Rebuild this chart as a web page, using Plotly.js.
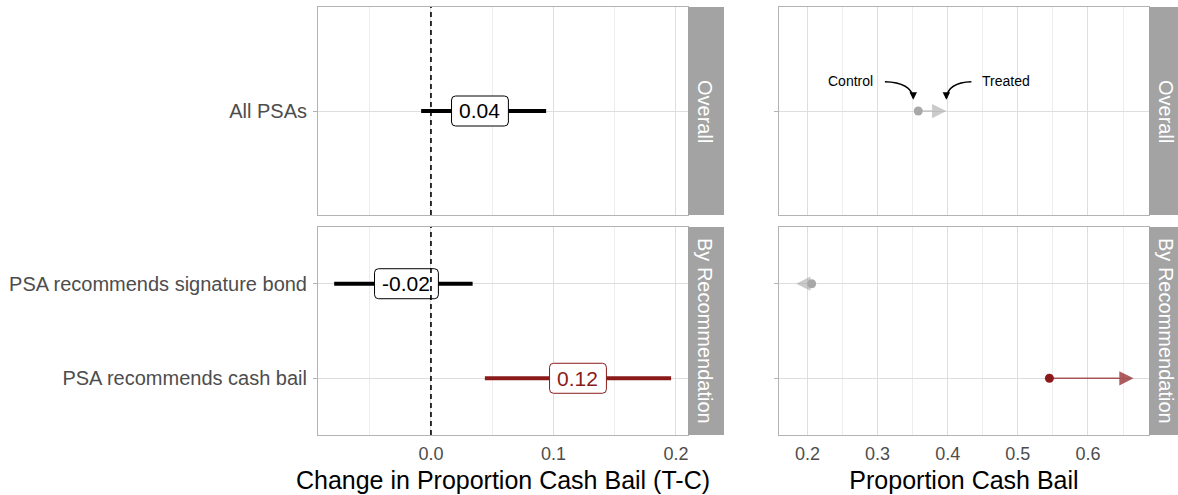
<!DOCTYPE html>
<html>
<head>
<meta charset="utf-8">
<script src="https://cdn.plot.ly/plotly-3.0.1.min.js"></script>
<style>
  html, body { margin: 0; padding: 0; background: #ffffff; }
  #chart { width: 1178px; height: 495px; }
</style>
</head>
<body>
<div id="chart"></div>
<script>
// ---- Data -------------------------------------------------------------
const facetNames = ["Overall", "By Recommendation"];
const overallRows = ["All PSAs"];
const recRows = ["PSA recommends signature bond", "PSA recommends cash bail"];

// Treatment effect (treated minus control) with 95% interval
const overallEst = [0.04];
const overallLo = [-0.008];
const overallHi = [0.094];
const recEst = [-0.02, 0.12];
const recLo = [-0.079, 0.044];
const recHi = [0.034, 0.196];

// Proportion receiving cash bail in each arm
const overallControl = [0.358];
const overallTreated = [0.398];
const recControl = [0.206, 0.545];
const recTreated = [0.184, 0.665];

// Whether the effect is statistically significant
const overallSig = [false];
const recSig = [false, true];

// ---- Styling ------------------------------------------------------------
const W = 1178, H = 495;
const FONT = '"Liberation Sans", Arial, Helvetica, sans-serif';
const SIG = '#8B1A1A';
const NS = '#000000';
const PT_NS = '#A8A8A8';
const ARR_NS = 'rgba(168,168,168,0.6)';
const ARR_SIG = 'rgba(139,26,26,0.7)';
const GRID = '#DEDEDE';
const GRID_MINOR = '#EDEDED';
const BORDER = '#B3B3B3';
const TICKTXT = '#4D4D4D';
const STRIP = '#A3A3A3';

const px = v => v / W;
const py = v => 1 - v / H;
const LEFT = [318, 688], RIGHT = [779, 1149];
const TOPP = [7, 215], BOTP = [227, 435];
const STRIP_W = 36;

const rowPos = (i, n) => n - i;          // first row at the top
const yRange = n => [0.4, n + 0.6];

// canvas measurement for label boxes
const ctx = document.createElement('canvas').getContext('2d');
const LABEL_SIZE = 21;
ctx.font = LABEL_SIZE + 'px ' + FONT;
const textWidth = t => ctx.measureText(t).width;

function roundRect(w, h, r) {
  const a = w / 2, b = h / 2;
  return `M ${-a + r},${-b} L ${a - r},${-b} Q ${a},${-b} ${a},${-b + r} ` +
         `L ${a},${b - r} Q ${a},${b} ${a - r},${b} L ${-a + r},${b} ` +
         `Q ${-a},${b} ${-a},${b - r} L ${-a},${-b + r} Q ${-a},${-b} ${-a + r},${-b} Z`;
}

const fmt = v => (v < 0 ? '-' : '') + Math.abs(v).toFixed(2);

const traces = [];
const shapes = [];
const annotations = [];

// ---- Effect panels (left) ----------------------------------------------
function effectPanel(rows, est, lo, hi, sig, xr, yr) {
  const n = rows.length;
  rows.forEach((r, i) => {
    const y = rowPos(i, n);
    const col = sig[i] ? SIG : NS;
    traces.push({
      type: 'scatter', mode: 'lines', xaxis: xr, yaxis: yr,
      x: [lo[i], hi[i]], y: [y, y],
      line: { color: col, width: 4 }, hoverinfo: 'skip', showlegend: false
    });
    const txt = fmt(est[i]);
    const w = textWidth(txt) + 16;
    shapes.push({
      type: 'path', layer: 'above', xref: xr, yref: yr,
      xsizemode: 'pixel', ysizemode: 'pixel', xanchor: est[i], yanchor: y,
      path: roundRect(w, 30, 4),
      fillcolor: '#ffffff', line: { color: col, width: 1 }
    });
    annotations.push({
      xref: xr, yref: yr, x: est[i], y: y, text: txt, showarrow: false,
      font: { family: FONT, size: LABEL_SIZE, color: col },
      xanchor: 'center', yanchor: 'middle'
    });
  });
  // reference line at zero
  shapes.push({
    type: 'line', layer: 'above', xref: xr, yref: yr + ' domain',
    x0: 0, x1: 0, y0: 0, y1: 1,
    line: { color: '#000000', width: 1.6, dash: '5px,4px' }
  });
}
effectPanel(overallRows, overallEst, overallLo, overallHi, overallSig, 'x3', 'y3');
effectPanel(recRows, recEst, recLo, recHi, recSig, 'x', 'y');

// ---- Proportion panels (right) -------------------------------------------
function proportionPanel(rows, ctrl, trt, sig, xr, yr) {
  const n = rows.length;
  const ys = rows.map((r, i) => rowPos(i, n));
  rows.forEach((r, i) => {
    annotations.push({
      xref: xr, yref: yr, axref: xr, ayref: yr,
      x: trt[i], y: ys[i], ax: ctrl[i], ay: ys[i], text: '',
      showarrow: true, arrowhead: 2, arrowsize: 1.9, arrowwidth: 1.5,
      arrowcolor: sig[i] ? ARR_SIG : ARR_NS, standoff: 0, startstandoff: 0
    });
  });
  traces.push({
    type: 'scatter', mode: 'markers', xaxis: xr, yaxis: yr,
    x: ctrl, y: ys,
    marker: { size: 9, color: sig.map(s => s ? SIG : PT_NS), line: { width: 0 } },
    hoverinfo: 'skip', showlegend: false
  });
}
proportionPanel(overallRows, overallControl, overallTreated, overallSig, 'x4', 'y4');
proportionPanel(recRows, recControl, recTreated, recSig, 'x2', 'y2');

// Arm labels with curved pointers in the overall proportion panel
const c0 = overallControl[0], t0 = overallTreated[0];
annotations.push({
  xref: 'x4', yref: 'y4', x: c0 - 0.0963, y: 1.173, text: 'Control', showarrow: false,
  font: { family: FONT, size: 14, color: '#000000' }
});
annotations.push({
  xref: 'x4', yref: 'y4', x: t0 + 0.0857, y: 1.173, text: 'Treated', showarrow: false,
  font: { family: FONT, size: 14, color: '#000000' }
});
const curves = [
  [c0 - 0.0475, 1.169, c0 - 0.0104, 1.166, c0 - 0.0071, 1.075],
  [t0 + 0.0358, 1.169, t0 + 0.0027, 1.166, t0 + 0.0001, 1.075]
];
curves.forEach(c => {
  shapes.push({
    type: 'path', xref: 'x4', yref: 'y4', layer: 'above',
    path: `M ${c[0]},${c[1]} Q ${c[2]},${c[3]} ${c[4]},${c[5]}`,
    line: { color: '#000000', width: 1.5 }
  });
  annotations.push({
    xref: 'x4', yref: 'y4', x: c[4], y: c[5] - 0.01, ax: 0, ay: -6, text: '',
    showarrow: true, arrowhead: 2, arrowsize: 1, arrowwidth: 1.5, arrowcolor: '#000000',
    standoff: 0
  });
});

// ---- Facet strips ----------------------------------------------------------
[[LEFT, TOPP, facetNames[0]], [LEFT, BOTP, facetNames[1]],
 [RIGHT, TOPP, facetNames[0]], [RIGHT, BOTP, facetNames[1]]].forEach(([xs, ys, name]) => {
  shapes.push({
    type: 'rect', xref: 'paper', yref: 'paper',
    x0: px(xs[1]), x1: px(Math.min(xs[1] + STRIP_W, W)), y0: py(ys[1]), y1: py(ys[0]),
    fillcolor: STRIP, line: { width: 0 }
  });
  annotations.push({
    xref: 'paper', yref: 'paper', x: px(xs[1] + STRIP_W / 2 - 1), y: py((ys[0] + ys[1]) / 2),
    text: name, showarrow: false, textangle: 90,
    font: { family: FONT, size: 20, color: '#ffffff' },
    xanchor: 'center', yanchor: 'middle'
  });
});

// ---- Axes -------------------------------------------------------------------
function xAxis(dom, range, anchor, labels, title, match) {
  const a = {
    domain: [px(dom[0]), px(dom[1])], anchor: anchor, range: range,
    tickmode: 'linear', tick0: 0, dtick: 0.1, tickformat: '.1f',
    showticklabels: labels, ticks: '', ticklabelstandoff: 2,
    tickfont: { family: FONT, size: 18, color: TICKTXT },
    showgrid: true, gridcolor: GRID, gridwidth: 1,
    minor: { tick0: 0, dtick: 0.05, showgrid: true, gridcolor: GRID_MINOR, gridwidth: 1 },
    zeroline: false, showline: true, mirror: true, linecolor: BORDER, linewidth: 1,
    fixedrange: true
  };
  if (title) a.title = { text: title, font: { family: FONT, size: 25, color: '#000000' }, standoff: 8 };
  if (match) a.matches = match;
  return a;
}
function yAxis(dom, rows, anchor, labels) {
  const n = rows.length;
  return {
    domain: [py(dom[1]), py(dom[0])], anchor: anchor, range: yRange(n),
    tickmode: 'array', tickvals: rows.map((r, i) => rowPos(i, n)), ticktext: rows,
    showticklabels: labels, ticks: 'outside', ticklen: 4, tickcolor: BORDER, tickwidth: 1,
    ticklabelstandoff: 2,
    tickfont: { family: FONT, size: 20, color: TICKTXT },
    showgrid: true, gridcolor: GRID, gridwidth: 1,
    zeroline: false, showline: true, mirror: true, linecolor: BORDER, linewidth: 1,
    fixedrange: true
  };
}

const layout = {
  width: W, height: H,
  margin: { l: 0, r: 0, t: 0, b: 0 },
  paper_bgcolor: '#ffffff', plot_bgcolor: '#ffffff',
  showlegend: false,
  xaxis: xAxis(LEFT, [-0.0922, 0.2098], 'y', true, 'Change in Proportion Cash Bail (T-C)'),
  xaxis2: xAxis(RIGHT, [0.1595, 0.687], 'y2', true, 'Proportion Cash Bail'),
  xaxis3: xAxis(LEFT, [-0.0922, 0.2098], 'y3', false, null),
  xaxis4: xAxis(RIGHT, [0.1595, 0.687], 'y4', false, null),
  yaxis: yAxis(BOTP, recRows, 'x', true),
  yaxis2: yAxis(BOTP, recRows, 'x2', false),
  yaxis3: yAxis(TOPP, overallRows, 'x3', true),
  yaxis4: yAxis(TOPP, overallRows, 'x4', false),
  shapes: shapes,
  annotations: annotations
};

Plotly.newPlot('chart', traces, layout, { displayModeBar: false, staticPlot: true });
</script>
</body>
</html>
